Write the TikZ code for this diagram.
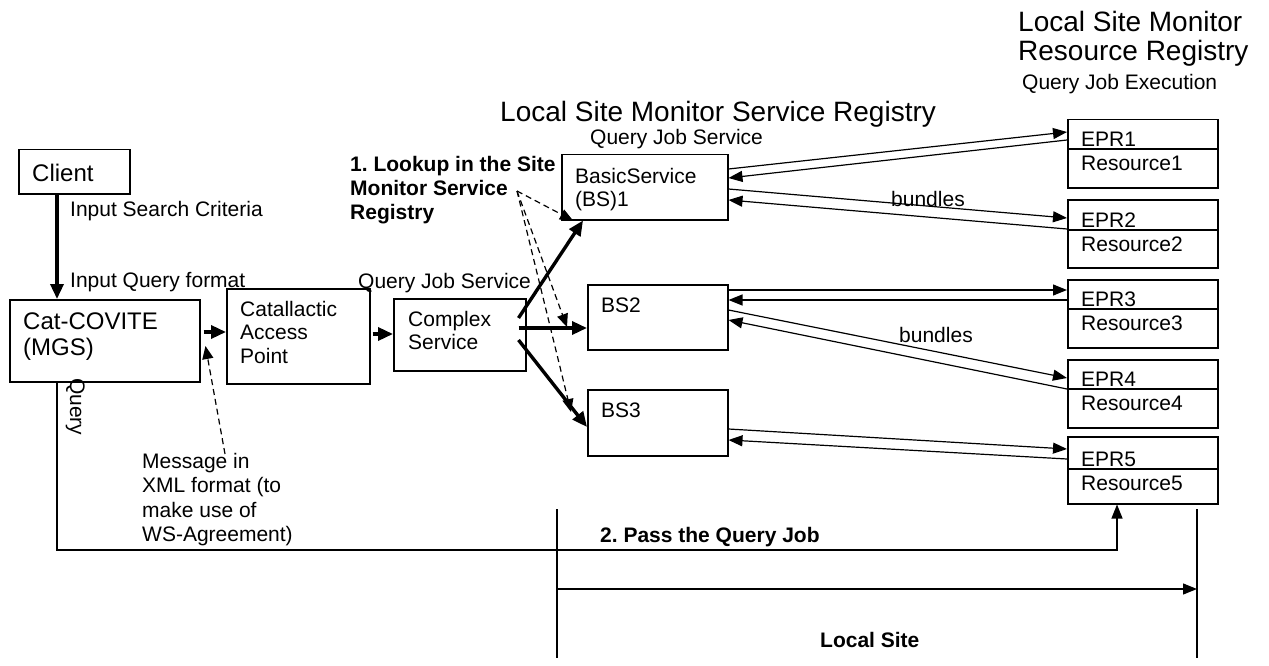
\documentclass[tikz,border=0pt]{standalone}
\usepackage{fontspec}
\setmainfont{Liberation Sans}
\usetikzlibrary{arrows.meta,calc}
\newcommand\fsN{\fontsize{21}{24.4}\selectfont}
\newcommand\fsC{\fontsize{24}{26}\selectfont}
\newcommand\fsT{\fontsize{28}{29}\selectfont}
\begin{document}
\frenchspacing
\begin{tikzpicture}[x=1pt,y=-1pt,
  box/.style={draw,line width=1.5pt,inner sep=0,anchor=north west},
  lbl/.style={inner sep=0,anchor=base west,align=left,font=\fsN},
  fine/.style={line width=1.2pt,-{Triangle[length=14pt,width=11pt]}},
  heavy/.style={line width=3.4pt,-{Triangle[length=15pt,width=13pt]}},
  dsh/.style={line width=1.2pt,dash pattern=on 6pt off 4pt,-{Triangle[length=13pt,width=11pt]}},
  plain/.style={line width=1.5pt}]
\useasboundingbox (0,0) rectangle (1269,666);

% boxes
\node[box,minimum width=111pt,minimum height=44pt] (client) at (18,149) {};
\node[box,minimum width=190pt,minimum height=82pt] (cat) at (9,299) {};
\node[box,minimum width=143pt,minimum height=95pt] (cap) at (226,288) {};
\node[box,minimum width=132pt,minimum height=72pt] (cs) at (393,298) {};
\node[box,minimum width=166pt,minimum height=65pt] (bs1) at (561,154) {};
\node[box,minimum width=140pt,minimum height=65pt] (bs2) at (587,284) {};
\node[box,minimum width=140pt,minimum height=66pt] (bs3) at (587,389) {};
\node[box,minimum width=150pt,minimum height=68pt] (epr1) at (1067,119) {};
\node[box,minimum width=150pt,minimum height=68pt] (epr2) at (1067,199) {};
\node[box,minimum width=150pt,minimum height=68pt] (epr3) at (1067,279) {};
\node[box,minimum width=150pt,minimum height=68pt] (epr4) at (1067,359) {};
\node[box,minimum width=150pt,minimum height=67pt] (epr5) at (1067,436) {};
\draw[plain] (epr1.west |- 0,149) -- (epr1.east |- 0,149);
\draw[plain] (epr2.west |- 0,230) -- (epr2.east |- 0,230);
\draw[plain] (epr3.west |- 0,309) -- (epr3.east |- 0,309);
\draw[plain] (epr4.west |- 0,389) -- (epr4.east |- 0,389);
\draw[plain] (epr5.west |- 0,469) -- (epr5.east |- 0,469);

% box texts (base anchor = baseline of the last line)
\node[lbl,font=\fsC] (tclient) at (32,181) {Client};
\node[lbl,font=\fsC] (tcat) at (23,355) {Cat-COVITE\\(MGS)};
\node[lbl,font=\fontsize{21}{23.5}\selectfont] (tcap) at (240,363) {Catallactic\\Access\\Point};
\node[lbl,font=\fontsize{21}{23.3}\selectfont] (tcs) at (408,349.3) {Complex\\Service};
\node[lbl,font=\fontsize{21}{23.3}\selectfont] (tbs1) at (575,206.3) {BasicService\\(BS)1};
\node[lbl] (tbs2) at (601,312) {BS2};
\node[lbl] (tbs3) at (601,417) {BS3};
\node[lbl] (te1) at (1081,146.5) {EPR1};
\node[lbl] (tr1) at (1081,170.5) {Resource1};
\node[lbl] (te2) at (1081,227) {EPR2};
\node[lbl] (tr2) at (1081,251) {Resource2};
\node[lbl] (te3) at (1081,306.5) {EPR3};
\node[lbl] (tr3) at (1081,330.5) {Resource3};
\node[lbl] (te4) at (1081,386.5) {EPR4};
\node[lbl] (tr4) at (1081,410.5) {Resource4};
\node[lbl] (te5) at (1081,466.5) {EPR5};
\node[lbl] (tr5) at (1081,490.5) {Resource5};

% free labels
\node[lbl] (lisc) at (70,216) {Input Search Criteria};
\node[lbl] (liqf) at (70,287) {Input Query format};
\node[lbl] (lqjs1) at (358,288) {Query Job Service};
\node[lbl] (lqjs2) at (590,145) {Query Job Service};
\node[lbl,font=\fsT] (ltitle) at (500,122) {Local Site Monitor Service Registry};
\node[lbl,font=\fsT] (lres) at (1018,61) {Local Site Monitor\\Resource Registry};
\node[lbl] (lqje) at (1022,90) {Query Job Execution};
\node[lbl,font=\fontsize{21}{24.3}\selectfont\bfseries] (llook) at (350,219.6) {1. Lookup in the Site\\Monitor Service\\Registry};
\node[lbl] (lmsg) at (142,541.5) {Message in\\XML format (to\\make use of\\WS-Agreement)};
\node[lbl] (lb1) at (891,206) {bundles};
\node[lbl] (lb2) at (899,342) {bundles};
\node[lbl,font=\fsN\bfseries] (lpass) at (600,542) {2. Pass the Query Job};
\node[lbl,font=\fsN\bfseries] (lsite) at (820,647) {Local Site};
\node[lbl,rotate=-90] (lquery) at (70,378) {Query};

% thick arrows
\draw[heavy] (57,0 |- client.south) -- (57,0 |- cat.north);
\draw[heavy] ($(cat.east |- 0,332)+(3,0)$) -- (cap.west |- 0,332);
\draw[heavy] ($(cap.east |- 0,334)+(2,0)$) -- (cs.west |- 0,334);
\draw[heavy] ($(cs.east |- 0,318)+(-8,0)$) -- (583,0 |- bs1.south);
\draw[heavy] ($(cs.east |- 0,328)+(-8,0)$) -- (bs2.west |- 0,328);
\draw[heavy] ($(cs.east |- 0,340)+(-8,0)$) -- (bs3.west |- 0,427);

% dashed arrows
\coordinate (lk) at (517,191);
\coordinate (msg) at (225,454);
\draw[dsh] (lk) -- (573,0 |- bs1.south);
\draw[dsh] (lk) -- ($(bs2.west |- 0,327)+(-20,0)$);
\draw[dsh] (lk) -- ($(bs3.west |- 0,412)+(-16,0)$);
\draw[dsh] (msg) -- ($(cat.east |- 0,346)+(5,0)$);

% thin arrows
\draw[fine] (bs1.east |- 0,169) -- (epr1.west |- 0,132);
\draw[fine] (epr1.west |- 0,140) -- (bs1.east |- 0,178);
\draw[fine] (bs1.east |- 0,189) -- (epr2.west |- 0,218);
\draw[fine] (epr2.west |- 0,229) -- (bs1.east |- 0,200);
\draw[fine] (bs2.east |- 0,290) -- (epr3.west |- 0,290);
\draw[fine] (epr3.west |- 0,300) -- (bs2.east |- 0,300);
\draw[fine] (bs2.east |- 0,310) -- (epr4.west |- 0,378);
\draw[fine] (epr4.west |- 0,389) -- (bs2.east |- 0,320);
\draw[fine] (bs3.east |- 0,429) -- (epr5.west |- 0,449);
\draw[fine] (epr5.west |- 0,459) -- (bs3.east |- 0,440);

% query path
\coordinate (qcorner) at (1117,550);
\draw[fine] (57,0 |- cat.south) |- (qcorner) -- (1117,0 |- epr5.south);

% local site
\coordinate (lsL) at (557,509);
\coordinate (lsLb) at (557,658);
\coordinate (lsR) at (1197,509);
\coordinate (lsRb) at (1197,658);
\draw[plain] (lsL) -- (lsLb);
\draw[plain] (lsR) -- (lsRb);
\draw[fine] (lsL |- 0,589) -- (lsR |- 0,589);
\end{tikzpicture}
\end{document}
